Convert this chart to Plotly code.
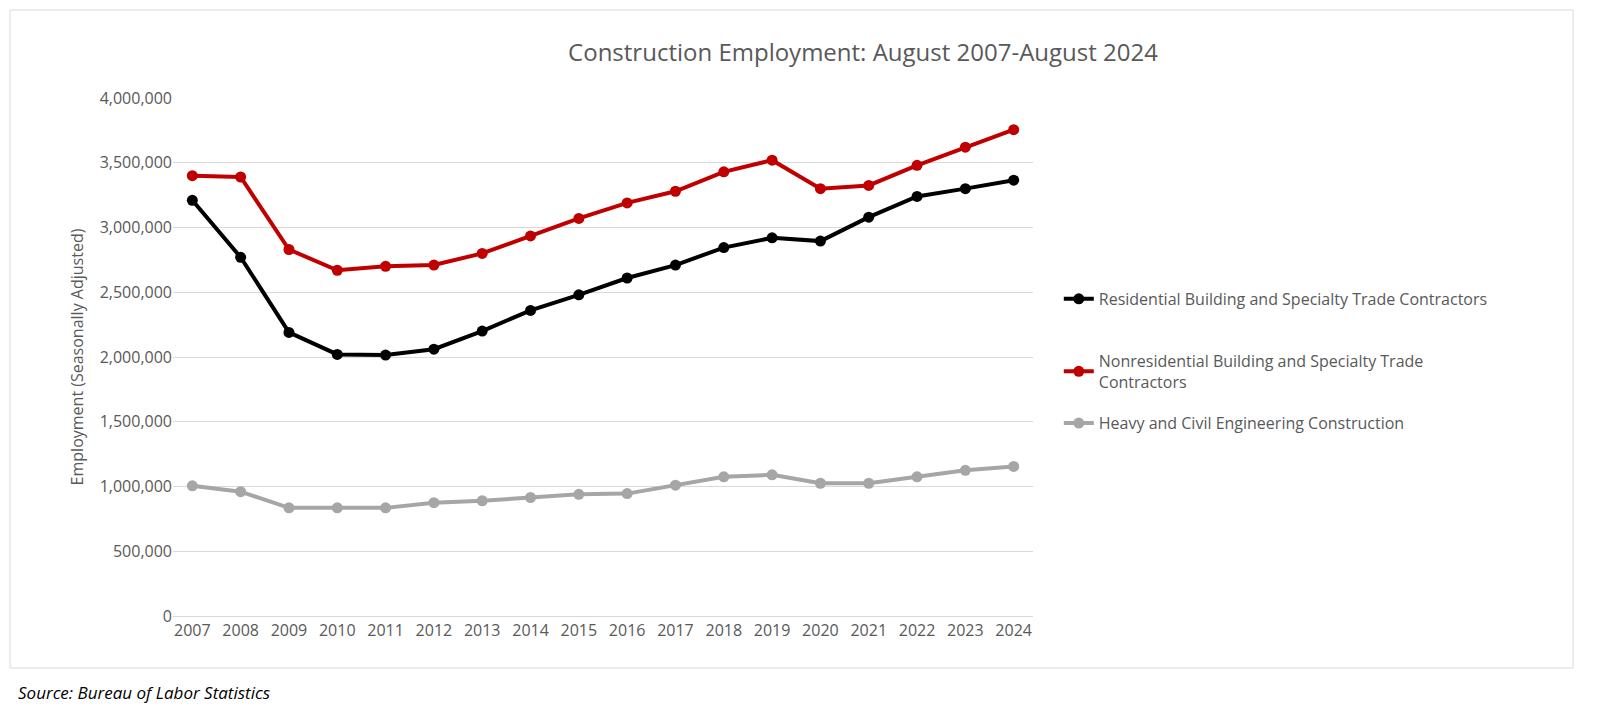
import plotly.graph_objects as go

years = [str(y) for y in range(2007, 2025)]
residential = [3210000, 2770000, 2190000, 2020000, 2015000, 2060000, 2200000, 2360000, 2480000,
               2610000, 2710000, 2845000, 2920000, 2895000, 3080000, 3240000, 3300000, 3365000]
nonresidential = [3400000, 3390000, 2830000, 2670000, 2700000, 2710000, 2800000, 2935000, 3070000,
                  3190000, 3280000, 3430000, 3520000, 3300000, 3325000, 3480000, 3620000, 3755000]
heavy = [1005000, 960000, 835000, 835000, 835000, 875000, 890000, 915000, 940000,
         945000, 1010000, 1075000, 1090000, 1025000, 1025000, 1075000, 1125000, 1155000]

names = ["Residential Building and Specialty Trade Contractors",
         "Nonresidential Building and Specialty Trade<br>Contractors",
         "Heavy and Civil Engineering Construction"]
colors = ["#000000", "#C00000", "#A6A6A6"]
series = [residential, nonresidential, heavy]
legends = ["legend", "legend2", "legend3"]
legy = [0.645, 0.525, 0.405]

fig = go.Figure()
for n, c, s, lg in zip(names, colors, series, legends):
    fig.add_trace(go.Scatter(x=years, y=s, name=n, mode="lines+markers",
                             line=dict(color=c, width=4), marker=dict(size=11, color=c),
                             legend=lg, showlegend=True))

font = dict(family="Open Sans, Liberation Sans, sans-serif", color="#595959", size=16)
layout_leg = {}
for lg, y in zip(legends, legy):
    layout_leg[lg] = dict(x=1.03, y=y, xanchor="left", yanchor="top", font=font,
                          bgcolor="rgba(0,0,0,0)", visible=True)

fig.update_layout(
    width=1600, height=715,
    margin=dict(l=165, r=575, t=90, b=107),
    paper_bgcolor="white", plot_bgcolor="white",
    font=font,
    showlegend=True,
    title=dict(text="Construction Employment: August 2007-August 2024", x=855/1600, xanchor="center",
               y=1 - 45/715, yanchor="middle", font=dict(size=24, color="#595959",
               family="Open Sans, Liberation Sans, sans-serif")),
    xaxis=dict(showgrid=False, showline=True, linecolor="#D9D9D9", linewidth=1, ticks="",
               tickfont=font, range=[-0.4, 17.4]),
    yaxis=dict(range=[0, 4000000], dtick=500000, tickformat=",", gridcolor="#D9D9D9",
               zeroline=False, ticks="", tickfont=font,
               title=dict(text="Employment (Seasonally Adjusted)", font=font, standoff=12)),
    **layout_leg,
)
fig.add_shape(type="rect", xref="paper", yref="paper", x0=-0.1895, x1=1.628, y0=-0.1004, y1=1.17,
              line=dict(color="#D9D9D9", width=1))
fig.add_annotation(text="<i>Source: Bureau of Labor Statistics</i>", xref="paper", yref="paper",
                   x=-0.1826, y=-0.1486, xanchor="left", yanchor="middle", showarrow=False,
                   font=dict(family="Open Sans, Liberation Sans, sans-serif", size=17, color="#000000"))
fig.write_html("out.html")
